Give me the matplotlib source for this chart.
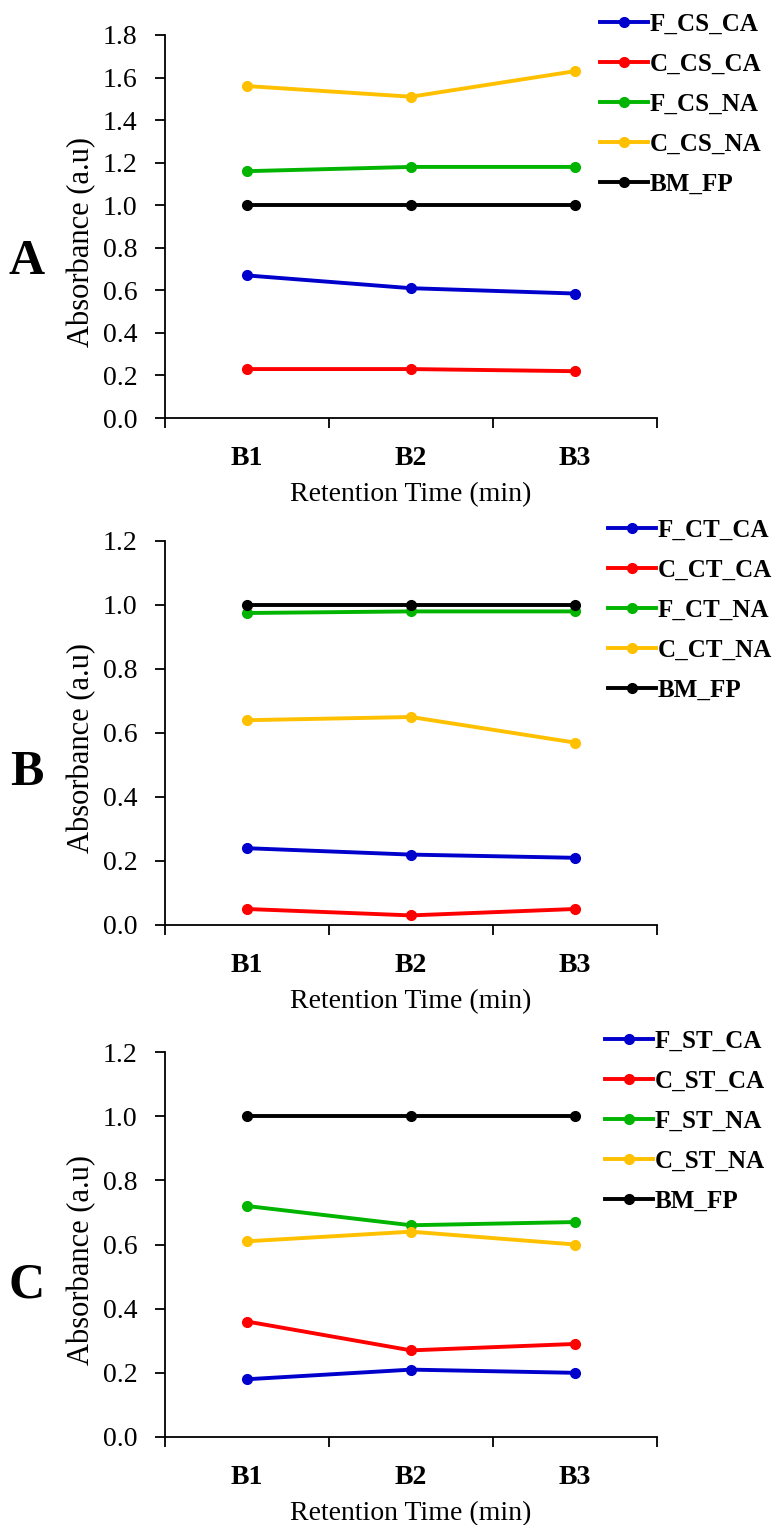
import numpy as np
import matplotlib
matplotlib.use('Agg')
import matplotlib.pyplot as plt

plt.rcParams['font.family'] = ['Liberation Serif', 'DejaVu Serif']

# categories
batches = ['B1', 'B2', 'B3']

# Panel A (CS)
names_A = ['F_CS_CA', 'C_CS_CA', 'F_CS_NA', 'C_CS_NA', 'BM_FP']
F_CS_CA = [0.67, 0.61, 0.585]
C_CS_CA = [0.23, 0.23, 0.22]
F_CS_NA = [1.16, 1.18, 1.18]
C_CS_NA = [1.56, 1.51, 1.63]
BM_FP_A = [1.0, 1.0, 1.0]

# Panel B (CT)
names_B = ['F_CT_CA', 'C_CT_CA', 'F_CT_NA', 'C_CT_NA', 'BM_FP']
F_CT_CA = [0.24, 0.22, 0.21]
C_CT_CA = [0.05, 0.03, 0.05]
F_CT_NA = [0.975, 0.98, 0.98]
C_CT_NA = [0.64, 0.65, 0.57]
BM_FP_B = [1.0, 1.0, 1.0]

# Panel C (ST)
names_C = ['F_ST_CA', 'C_ST_CA', 'F_ST_NA', 'C_ST_NA', 'BM_FP']
F_ST_CA = [0.18, 0.21, 0.20]
C_ST_CA = [0.36, 0.27, 0.29]
F_ST_NA = [0.72, 0.66, 0.67]
C_ST_NA = [0.61, 0.64, 0.60]
BM_FP_C = [1.0, 1.0, 1.0]

colors = ['#0000CC', '#FF0000', '#00B400', '#FFC000', '#000000']

W, H = 773, 1525
fig = plt.figure(figsize=(W / 100, H / 100), dpi=100)

def px_box(left, top, right, bottom):
    return [left / W, 1 - bottom / H, (right - left) / W, (bottom - top) / H]

# letter, names, series, ymax, axes top/bottom (px), legend x (px), letter y (px)
panels = [
    ('A', names_A, [F_CS_CA, C_CS_CA, F_CS_NA, C_CS_NA, BM_FP_A], 1.8, (35, 418), 600, 262),
    ('B', names_B, [F_CT_CA, C_CT_CA, F_CT_NA, C_CT_NA, BM_FP_B], 1.2, (541, 925), 608, 773),
    ('C', names_C, [F_ST_CA, C_ST_CA, F_ST_NA, C_ST_NA, BM_FP_C], 1.2, (1052, 1437), 605, 1285),
]

x = np.arange(len(batches))
for letter, names, series, ymax, (top, bottom), legx, lety in panels:
    ax = fig.add_axes(px_box(165, top, 657, bottom))
    for vals, name, c in zip(series, names, colors):
        ax.plot(x, vals, color=c, lw=2.8, marker='o', ms=7, label=name)
    ax.set_xlim(-0.5, 2.5)
    ax.set_ylim(0, ymax)
    yt = np.arange(0, ymax + 0.01, 0.2)
    ax.set_yticks(yt)
    ax.set_yticklabels(['%.1f' % v for v in yt], fontsize=20)
    ax.set_xticks([-0.5, 0.5, 1.5, 2.5])
    ax.set_xticklabels([])
    ax.set_xticks(x, minor=True)
    ax.set_xticklabels(batches, minor=True, fontsize=20, fontweight='bold')
    ax.tick_params(axis='x', which='major', direction='out', length=7, width=1.3)
    ax.tick_params(axis='x', which='minor', length=0, pad=20)
    ax.tick_params(axis='y', direction='out', length=7, width=1.3, pad=13)
    for s in ['top', 'right']:
        ax.spines[s].set_visible(False)
    for s in ['left', 'bottom']:
        ax.spines[s].set_linewidth(1.3)
    ax.set_xlabel('Retention Time (min)', fontsize=20, labelpad=8)
    ax.set_ylabel('Absorbance (a.u)', fontsize=22)
    ax.yaxis.set_label_coords(-0.14, 0.46)
    ax.legend(loc='upper left', bbox_to_anchor=(legx / W, 1 - (top - 22) / H),
              bbox_transform=fig.transFigure, frameon=False,
              prop={'size': 18, 'weight': 'bold'}, handlelength=1.9,
              handletextpad=0.1, labelspacing=0.68, borderaxespad=0, borderpad=0)
    fig.text(27 / W, 1 - lety / H, letter, fontsize=36, fontweight='bold',
             ha='center', va='center')

fig.savefig('out.png', dpi=100)
